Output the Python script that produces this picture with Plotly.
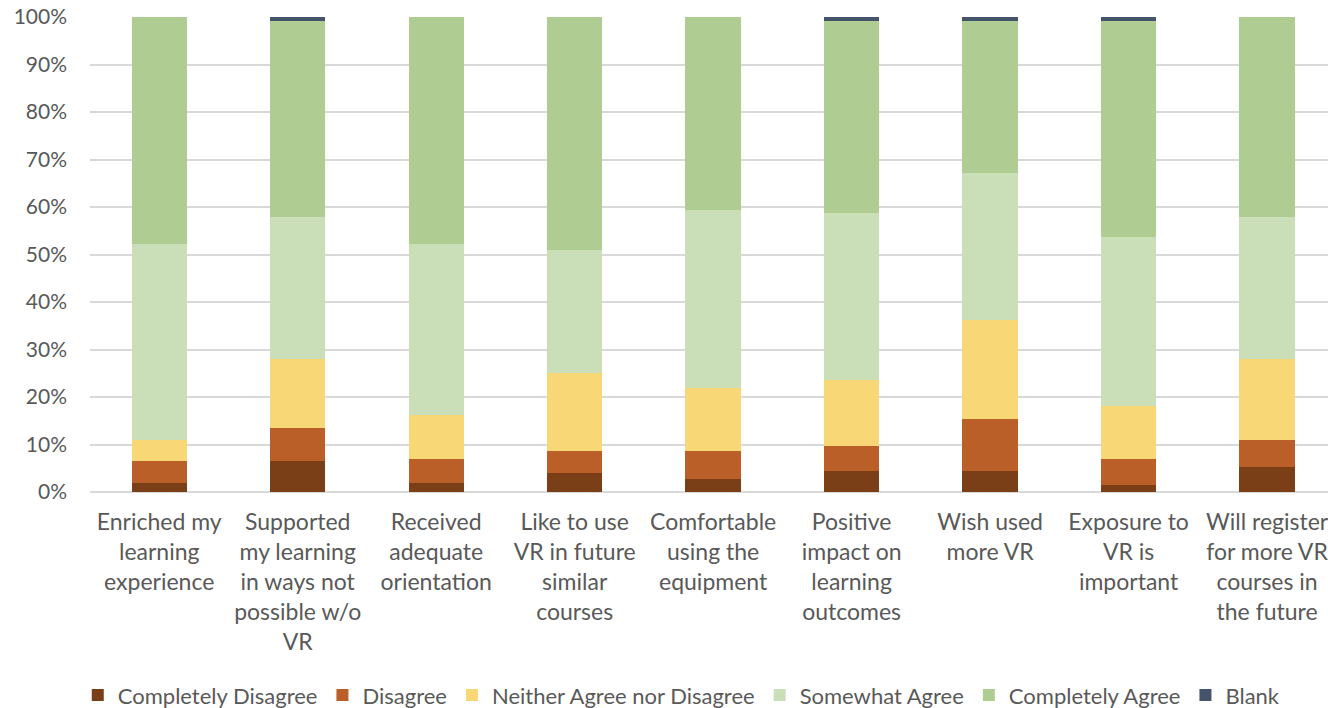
import plotly.graph_objects as go

categories = [
    "Enriched my<br>learning<br>experience",
    "Supported<br>my learning<br>in ways not<br>possible w/o<br>VR",
    "Received<br>adequate<br>orientation",
    "Like to use<br>VR in future<br>similar<br>courses",
    "Comfortable<br>using the<br>equipment",
    "Positive<br>impact on<br>learning<br>outcomes",
    "Wish used<br>more VR",
    "Exposure to<br>VR is<br>important",
    "Will register<br>for more VR<br>courses in<br>the future",
]

completely_disagree = [1.8, 6.6, 1.8, 3.9, 2.7, 4.4, 4.4, 1.4, 5.3]
disagree = [4.7, 6.9, 5.2, 4.8, 6.0, 5.3, 10.9, 5.6, 5.6]
neither = [4.4, 14.5, 9.2, 16.3, 13.2, 13.9, 21.0, 11.2, 17.1]
somewhat_agree = [41.4, 29.9, 36.1, 26.0, 37.4, 35.2, 30.8, 35.4, 29.9]
completely_agree = [47.7, 41.2, 47.7, 49.0, 40.7, 40.3, 32.0, 45.5, 42.1]
blank = [0.0, 0.9, 0.0, 0.0, 0.0, 0.9, 0.9, 0.9, 0.0]

series = [
    ("Completely Disagree", completely_disagree, "#7B3F17"),
    ("Disagree", disagree, "#BA5F27"),
    ("Neither Agree nor Disagree", neither, "#F8D776"),
    ("Somewhat Agree", somewhat_agree, "#CADFB8"),
    ("Completely Agree", completely_agree, "#AFCD93"),
    ("Blank", blank, "#44546A"),
]

fig = go.Figure()
for name, vals, color in series:
    fig.add_trace(go.Bar(
        name=name,
        x=list(range(len(categories))),
        y=[v / 100 for v in vals],
        marker=dict(color=color, line=dict(width=0)),
    ))

font_family = "Lato, 'Open Sans', sans-serif"
fig.update_layout(
    barmode="stack",
    bargap=0.6,
    width=1328,
    height=708,
    margin=dict(l=90, r=0, t=17, b=216, autoexpand=False),
    paper_bgcolor="white",
    plot_bgcolor="white",
    font=dict(family=font_family, size=20, color="#595959"),
    xaxis=dict(
        tickmode="array",
        tickvals=list(range(len(categories))),
        ticktext=categories,
        range=[-0.5, 8.44],
        showgrid=False,
        zeroline=False,
        showline=False,
        ticks="",
        tickangle=0,
        tickfont=dict(size=23, color="#595959"),
        ticklabelstandoff=14,
        ticklabeloverflow="allow",
        automargin=False,
    ),
    yaxis=dict(
        range=[0, 1],
        tickvals=[i / 10 for i in range(11)],
        tickformat=".0%",
        showgrid=True,
        gridcolor="#D9D9D9",
        gridwidth=1.5,
        zeroline=True,
        zerolinecolor="#D9D9D9",
        zerolinewidth=1.5,
        tickfont=dict(size=21, color="#595959"),
        ticklabelstandoff=22,
        ticks="",
        automargin=False,
    ),
    legend=dict(
        orientation="h",
        x=0.478,
        xanchor="center",
        y=-0.428,
        yanchor="middle",
        font=dict(size=22, color="#595959"),
        traceorder="normal",
        itemwidth=30,
    ),
    showlegend=True,
)

fig.write_html("out.html")
